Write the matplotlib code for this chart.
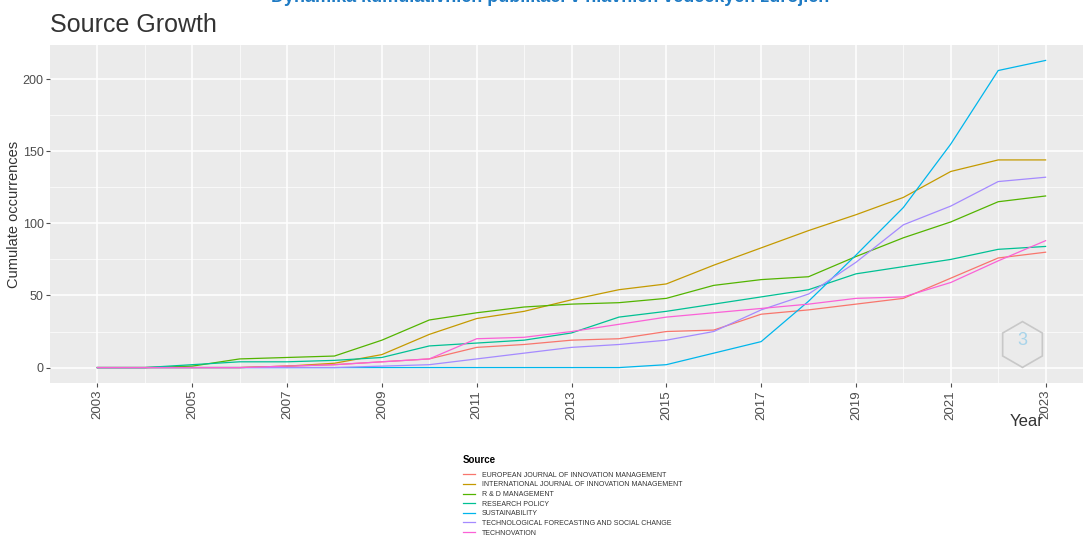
import matplotlib
matplotlib.use('Agg')
import matplotlib.pyplot as plt
import numpy as np

plt.rcParams['font.family'] = ['Liberation Sans', 'DejaVu Sans']

years = list(range(2003, 2024))

sources = [
    'EUROPEAN JOURNAL OF INNOVATION MANAGEMENT',
    'INTERNATIONAL JOURNAL OF INNOVATION MANAGEMENT',
    'R & D MANAGEMENT',
    'RESEARCH POLICY',
    'SUSTAINABILITY',
    'TECHNOLOGICAL FORECASTING AND SOCIAL CHANGE',
    'TECHNOVATION',
]

european = [0, 0, 0, 0, 1, 2, 4, 6, 14, 16, 19, 20, 25, 26, 37, 40, 44, 48, 62, 76, 80]
international = [0, 0, 0, 0, 1, 3, 9, 23, 34, 39, 47, 54, 58, 71, 83, 95, 106, 118, 136, 144, 144]
rd_management = [0, 0, 1, 6, 7, 8, 19, 33, 38, 42, 44, 45, 48, 57, 61, 63, 77, 90, 101, 115, 119]
research_policy = [0, 0, 2, 4, 4, 5, 7, 15, 17, 19, 24, 35, 39, 44, 49, 54, 65, 70, 75, 82, 84]
sustainability = [0, 0, 0, 0, 0, 0, 0, 0, 0, 0, 0, 0, 2, 10, 18, 46, 78, 111, 155, 206, 213]
tech_forecasting = [0, 0, 0, 0, 0, 0, 1, 2, 6, 10, 14, 16, 19, 25, 40, 51, 73, 99, 112, 129, 132]
technovation = [0, 0, 0, 0, 1, 2, 4, 6, 20, 21, 25, 30, 35, 38, 41, 44, 48, 49, 59, 74, 88]

series = [european, international, rd_management, research_policy,
          sustainability, tech_forecasting, technovation]
colors = ['#F8766D', '#C49A00', '#53B400', '#00C094', '#00B6EB', '#A58AFF', '#FB61D7']

fig = plt.figure(figsize=(10.83, 5.37), dpi=100)
ax = fig.add_axes([50/1083, 1 - 383/537, 1043/1083, 338/537])
ax.set_facecolor('#EBEBEB')
for s in ax.spines.values():
    s.set_visible(False)

for vals, col, name in zip(series, colors, sources):
    ax.plot(years, vals, color=col, lw=0.9, label=name)

ax.set_xlim(2002, 2024)
ax.set_ylim(-10.7, 223.7)
ax.set_xticks(range(2003, 2024, 2))
ax.set_xticks(range(2004, 2024, 2), minor=True)
ax.set_yticks([0, 50, 100, 150, 200])
ax.set_yticks([25, 75, 125, 175], minor=True)
ax.grid(which='major', color='white', lw=1.1)
ax.grid(which='minor', color='white', lw=0.5)
ax.set_axisbelow(True)
ax.tick_params(axis='x', which='major', labelrotation=90, labelsize=9.5,
               colors='#4D4D4D', length=3, width=0.8, pad=2)
ax.tick_params(axis='y', which='major', labelsize=9, colors='#4D4D4D',
               length=3, width=0.8, pad=1.5)
ax.tick_params(which='minor', length=0)

ax.set_ylabel('Cumulate occurrences', fontsize=10.5, color='#333333', labelpad=1.5)

# watermark hexagon
ax.plot([0.932], [0.115], marker='h', ms=33, mfc='none', mec='#C8C8C8',
        mew=1.2, transform=ax.transAxes, clip_on=False)
ax.text(0.932, 0.125, '3', color='#A8D4EA', fontsize=13, ha='center',
        va='center', transform=ax.transAxes)

fig.text(1027/1083, 1 - 421/537, 'Year', fontsize=12, color='#333333',
         ha='center', va='center')
fig.text(50/1083, 1 - 25/537, 'Source Growth', fontsize=18, color='#333333',
         ha='left', va='center')
fig.text(550/1083, 1 + 2/537, 'Dynamika kumulativních publikací v hlavních vědeckých zdrojích',
         fontsize=13, color='#1F7BC4', fontweight='bold', ha='center', va='center')

leg = fig.legend(loc='upper left', bbox_to_anchor=(460/1083, 1 - 452/537),
                 frameon=False, fontsize=5, title='Source', handlelength=1.8,
                 labelspacing=0.38, borderaxespad=0, handletextpad=0.9)
leg.get_title().set_fontweight('bold')
leg.get_title().set_fontsize(7)
leg._legend_box.align = 'left'
leg._legend_box.sep = 5
for t in leg.get_texts():
    t.set_color('#333333')

fig.savefig('out.png', dpi=100)
